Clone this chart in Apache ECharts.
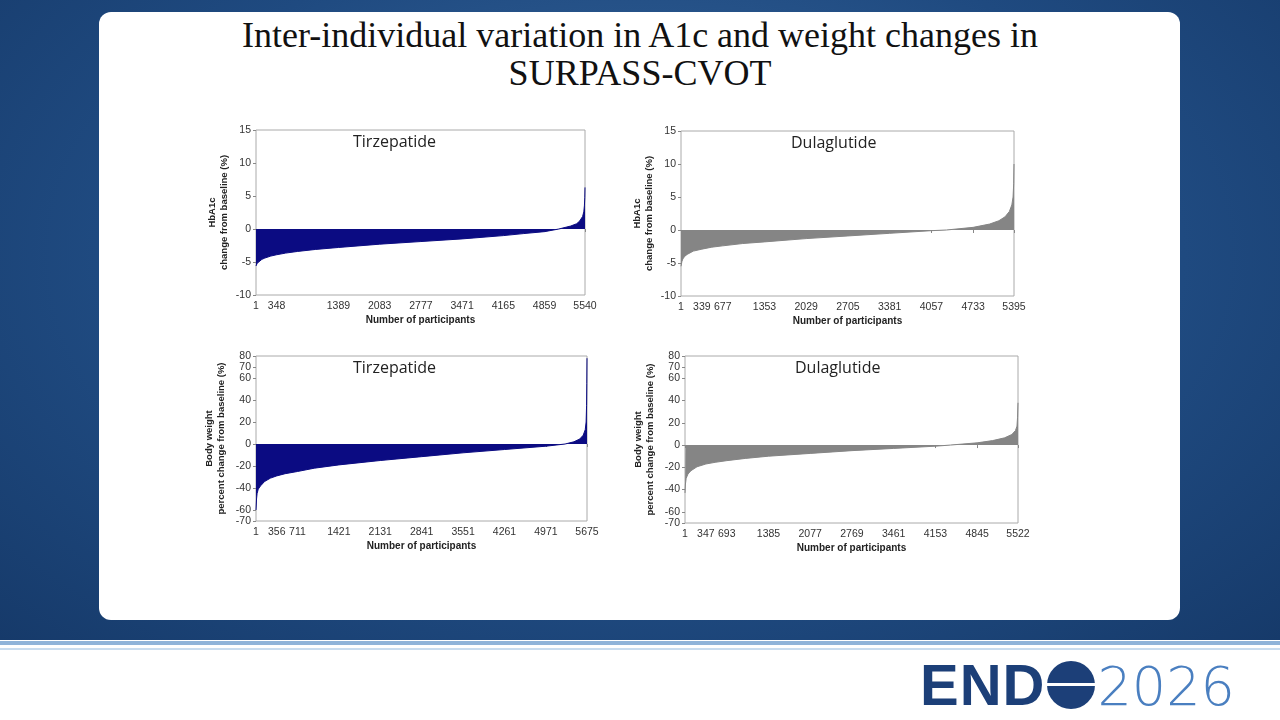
<!DOCTYPE html>
<html><head><meta charset="utf-8">
<script src="https://cdn.jsdelivr.net/npm/echarts@6/dist/echarts.min.js"></script>
<style>
html,body{margin:0;width:1280px;height:720px;overflow:hidden;font-family:"Liberation Sans",Arial,sans-serif}
#bg{position:absolute;left:0;top:0;width:1280px;height:640px;background:radial-gradient(ellipse at 50% 40%,#3a6aa0 0%,#1f4a80 60%,#163a6a 100%)}
#strip{position:absolute;left:0;top:640px;width:1280px;height:80px;background:#fff}
#l1{position:absolute;left:0;top:641px;width:1280px;height:4px;background:#8fb3d9}
#l2{position:absolute;left:0;top:648px;width:1280px;height:2px;background:#c9dcef}
#card{position:absolute;left:99px;top:12px;width:1081px;height:608px;background:#fff;border-radius:12px}
#title{position:absolute;left:0;top:16px;width:1280px;text-align:center;font-family:"Liberation Serif","Times New Roman",serif;font-size:36px;line-height:38px;color:#111}
#logo{position:absolute;left:920px;top:652px;font-size:58px;line-height:66px;white-space:nowrap}
#logo .e{font-weight:bold;color:#1c3f78;letter-spacing:1px}
#logo .o{display:inline-block;width:48px;height:48px;border-radius:50%;background:linear-gradient(#1c3f78 0 45%,#fff 45% 52%,#1c3f78 52% 100%);vertical-align:-4px;margin:0 2px}
#logo .y{font-weight:200;color:#4a7fc0;font-family:"DejaVu Sans",sans-serif;font-size:54px}
#c{position:absolute;left:0;top:0;width:1280px;height:720px}
</style></head><body>
<div id="bg"></div><div id="strip"></div><div id="l1"></div><div id="l2"></div>
<div id="card"></div>
<div id="title">Inter-individual variation in A1c and weight changes in<br>SURPASS-CVOT</div>
<div id="logo"><span class="e">END</span><span class="o"></span><span class="y">2026</span></div>
<div id="c"></div>
<script>
const tirzA1c = [[1,-5.6],[20,-5.2],[50,-4.9],[100,-4.6],[150,-4.4],[250,-4.1],[348,-3.9],[500,-3.65],[700,-3.4],[1000,-3.1],[1389,-2.8],[2083,-2.3],[2777,-1.9],[3471,-1.5],[4165,-1.0],[4500,-0.7],[4859,-0.4],[5100,0],[5300,0.45],[5400,0.8],[5450,1.2],[5500,1.9],[5520,2.6],[5530,3.5],[5537,4.8],[5540,6.3]];
const dulaA1c = [[1,-5.5],[15,-4.8],[30,-4.4],[60,-4.0],[100,-3.7],[200,-3.2],[339,-2.9],[500,-2.6],[677,-2.4],[1000,-2.05],[1353,-1.8],[2029,-1.3],[2705,-0.9],[3381,-0.5],[4057,-0.1],[4300,0],[4733,0.4],[5000,0.9],[5150,1.4],[5250,2.0],[5320,2.8],[5360,3.8],[5380,5.0],[5390,7.0],[5395,10.0]];
const tirzWt = [[1,-60],[10,-50],[20,-45],[40,-41],[80,-38],[150,-34],[250,-31],[356,-29],[500,-27],[711,-25],[1000,-22],[1421,-19],[2131,-15],[2841,-11.5],[3551,-8],[4261,-5],[4971,-2],[5300,0],[5450,2],[5550,4.5],[5610,8],[5645,13],[5660,20],[5668,35],[5672,55],[5675,78]];
const dulaWt = [[1,-43],[8,-35],[20,-30],[50,-26],[100,-23],[200,-19.5],[347,-17],[500,-15.5],[693,-14],[1000,-12],[1385,-10],[2077,-7.5],[2769,-5],[3461,-3],[4153,-1],[4400,0],[4845,2],[5100,4],[5300,6.5],[5420,9.5],[5480,13],[5505,17],[5515,25],[5522,38]];
const xTicksTA = [1,348,1389,2083,2777,3471,4165,4859,5540];
const xTicksDA = [1,339,677,1353,2029,2705,3381,4057,4733,5395];
const xTicksTW = [1,356,711,1421,2131,2841,3551,4261,4971,5675];
const xTicksDW = [1,347,693,1385,2077,2769,3461,4153,4845,5522];
const yTicksA1c = [-10,-5,0,5,10,15];
const yTicksWt = [-70,-60,-40,-20,0,20,40,60,70,80];

const panels = [
 {d:tirzA1c,xt:xTicksTA,yt:yTicksA1c,c:'#0b0b82',g:{left:256,top:130,width:329,height:165},name:'HbA1c\nchange from baseline (%)',t:'Tirzepatide'},
 {d:dulaA1c,xt:xTicksDA,yt:yTicksA1c,c:'#858585',g:{left:681,top:131,width:333,height:165},name:'HbA1c\nchange from baseline (%)',t:'Dulaglutide'},
 {d:tirzWt,xt:xTicksTW,yt:yTicksWt,c:'#0b0b82',g:{left:256,top:356,width:331,height:165},name:'Body weight\npercent change from baseline (%)',t:'Tirzepatide'},
 {d:dulaWt,xt:xTicksDW,yt:yTicksWt,c:'#858585',g:{left:685,top:356,width:333,height:167},name:'Body weight\npercent change from baseline (%)',t:'Dulaglutide'}
];
const lab={fontFamily:'Liberation Sans',fontSize:10.5,color:'#333'};
const opt={animation:false,grid:[],xAxis:[],yAxis:[],series:[],graphic:[]};
panels.forEach((p,i)=>{
 opt.grid.push(Object.assign({show:true,borderColor:'#aaa',borderWidth:1,backgroundColor:'#fff'},p.g));
 const N=p.xt[p.xt.length-1];
 opt.xAxis.push({type:'value',gridIndex:i,min:1,max:N,splitLine:{show:false},axisLine:{show:false},
   axisTick:{show:true,customValues:p.xt,length:3,lineStyle:{color:'#888'}},
   axisLabel:Object.assign({customValues:p.xt,margin:6,formatter:v=>String(v)},lab),
   name:'Number of participants',nameLocation:'middle',nameGap:20,nameTextStyle:{fontFamily:'Liberation Sans',fontSize:10,fontWeight:'bold',color:'#222'}});
 const mn=p.yt[0],mx=p.yt[p.yt.length-1];
 opt.yAxis.push({type:'value',gridIndex:i,min:mn,max:mx,splitLine:{show:false},axisLine:{show:false},
   axisTick:{show:true,customValues:p.yt,length:3,lineStyle:{color:'#888'}},
   axisLabel:Object.assign({customValues:p.yt,margin:5,formatter:v=>String(v)},lab),
   name:p.name,nameLocation:'middle',nameRotate:90,nameGap:i<2?26:29,
   nameTextStyle:{fontFamily:'Liberation Sans',fontSize:9.5,fontWeight:'bold',color:'#222',lineHeight:12}});
 opt.series.push({type:'line',xAxisIndex:i,yAxisIndex:i,data:p.d,showSymbol:false,smooth:false,
   lineStyle:{color:p.c,width:1},areaStyle:{color:p.c,opacity:1}});
 opt.graphic.push({type:'text',left:p.g.left+(i%2?110:97),top:p.g.top+4,style:{text:p.t,fontFamily:'Open Sans',fontSize:16,fill:'#222'}});
});
echarts.init(document.getElementById('c')).setOption(opt);
</script></body></html>
